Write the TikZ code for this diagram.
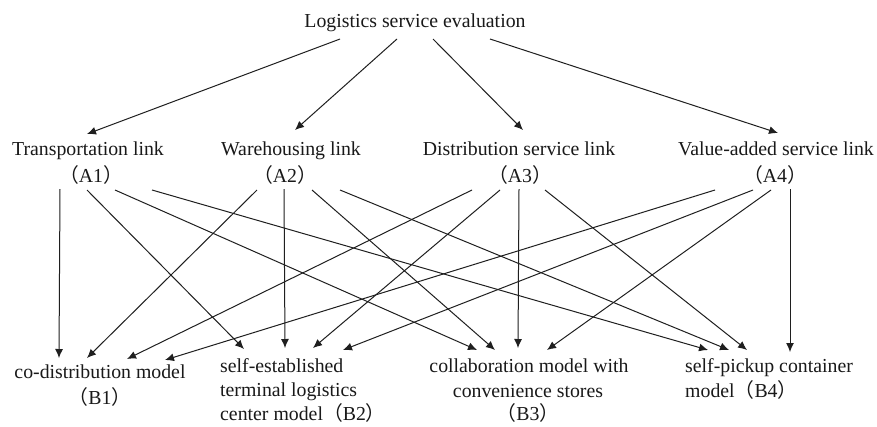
\documentclass[tikz,border=0pt]{standalone}
\usepackage{fontspec}
\setmainfont{Liberation Serif}
\newfontfamily\cjk{Noto Sans CJK SC}
\usetikzlibrary{arrows.meta}
% full-width brackets
\newcommand\fwl{{\cjk （}}
\newcommand\fwr{{\cjk ）}}

\begin{document}
\begin{tikzpicture}[x=1pt,y=-1pt,
  lbl/.style={font=\fontsize{19.8}{24}\selectfont, text=black!90, inner sep=0pt, anchor=base},
  lblw/.style={lbl, anchor=base west},
  link/.style={draw=black!88, line width=1pt, -{Latex[length=9pt,width=8pt]}}]

\fill[white] (0,0) rectangle (877,426);
\useasboundingbox (0,0) rectangle (877,426);

% goal
\node[lbl] (top) at (415,27) {Logistics service evaluation};

% criteria
\node[lbl] (A1)  at (88,155)  {Transportation link};
\node[lbl] (A1c) at (91,182)  {\fwl A1\fwr};
\node[lbl] (A2)  at (291,155) {Warehousing link};
\node[lbl] (A2c) at (285,182) {\fwl A2\fwr};
\node[lbl] (A3)  at (519,155) {Distribution service link};
\node[lbl] (A3c) at (520,182) {\fwl A3\fwr};
\node[lbl] (A4)  at (776,155) {Value-added service link};
\node[lbl] (A4c) at (775,182) {\fwl A4\fwr};

% alternatives
\node[lbl]  (B1)  at (100,378) {co-distribution model};
\node[lbl]  (B1c) at (100,404) {\fwl B1\fwr};
\node[lblw] (B2)  at (220,372) {self-established};
\node[lblw] (B2b) at (220,396) {terminal logistics};
\node[lblw] (B2c) at (220,420) {center model\fwl B2\fwr};
\node[lbl]  (B3)  at (529,372) {collaboration model with};
\node[lbl]  (B3b) at (528,397) {convenience stores};
\node[lbl]  (B3c) at (528,420) {\fwl B3\fwr};
\node[lblw] (B4)  at (685,372) {self-pickup container};
\node[lblw] (B4c) at (685,397) {model\fwl B4\fwr};

% goal -> criteria
\coordinate (g1) at (340,39);  \coordinate (g1e) at (87,134);
\coordinate (g2) at (397,39);  \coordinate (g2e) at (295,130);
\coordinate (g3) at (433,39);  \coordinate (g3e) at (523,130);
\coordinate (g4) at (490,39);  \coordinate (g4e) at (778,133);
\foreach \i in {1,...,4} \draw[link] (g\i) -- (g\i e);

% criteria start points (a<i>b<j>: from Ai towards Bj)
\coordinate (a1b1) at (60,189);  \coordinate (a1b2) at (87,190);
\coordinate (a1b3) at (115,190); \coordinate (a1b4) at (152,190);
\coordinate (a2b1) at (257,190); \coordinate (a2b2) at (284,189);
\coordinate (a2b3) at (312,190); \coordinate (a2b4) at (340,190);
\coordinate (a3b1) at (472,190); \coordinate (a3b2) at (500,190);
\coordinate (a3b3) at (519,189); \coordinate (a3b4) at (545,190);
\coordinate (a4b1) at (715,190); \coordinate (a4b2) at (753,190);
\coordinate (a4b3) at (771,190); \coordinate (a4b4) at (790,189);

% alternative end points (b<j>a<i>: into Bj from Ai)
\coordinate (b1a1) at (59,358);  \coordinate (b1a2) at (87,358);
\coordinate (b1a3) at (127,359); \coordinate (b1a4) at (165,360);
\coordinate (b2a1) at (244,349); \coordinate (b2a2) at (285,348);
\coordinate (b2a3) at (313,348); \coordinate (b2a4) at (343,350);
\coordinate (b3a1) at (477,350); \coordinate (b3a2) at (495,350);
\coordinate (b3a3) at (518,348); \coordinate (b3a4) at (547,350);
\coordinate (b4a1) at (708,350); \coordinate (b4a2) at (729,350);
\coordinate (b4a3) at (747,350); \coordinate (b4a4) at (790,352);

% criteria -> alternatives
\foreach \i in {1,...,4}
  \foreach \j in {1,...,4}
    \draw[link] (a\i b\j) -- (b\j a\i);
\end{tikzpicture}
\end{document}
